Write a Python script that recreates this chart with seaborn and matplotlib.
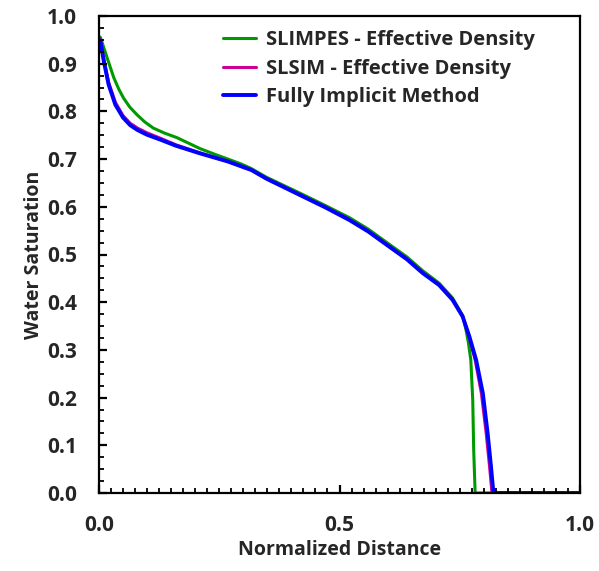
import numpy as np
import pandas as pd
import matplotlib
matplotlib.use("Agg")
import matplotlib.pyplot as plt
import seaborn as sns
from matplotlib.ticker import MultipleLocator

# ---- data ----
fim_x = [0.0, 0.003, 0.01, 0.02, 0.034, 0.05, 0.065, 0.08, 0.1, 0.127, 0.16, 0.21,
         0.268, 0.317, 0.348, 0.417, 0.47, 0.521, 0.56, 0.604, 0.64, 0.673, 0.707,
         0.735, 0.756, 0.77, 0.784, 0.798, 0.808, 0.815, 0.82, 0.83, 1.0]
fim_y = [0.95, 0.947, 0.905, 0.856, 0.814, 0.787, 0.771, 0.761, 0.751, 0.741, 0.728, 0.712,
         0.695, 0.677, 0.659, 0.625, 0.599, 0.572, 0.548, 0.516, 0.49, 0.461, 0.436,
         0.405, 0.37, 0.328, 0.279, 0.209, 0.125, 0.055, 0.0, 0.0, 0.0]

slsim_x = [0.0, 0.003, 0.01, 0.02, 0.034, 0.05, 0.065, 0.08, 0.1, 0.127, 0.16, 0.21,
           0.268, 0.317, 0.348, 0.417, 0.47, 0.521, 0.56, 0.604, 0.64, 0.673, 0.707,
           0.735, 0.756, 0.769, 0.782, 0.795, 0.805, 0.812, 0.817, 0.83, 1.0]
slsim_y = [0.953, 0.95, 0.909, 0.861, 0.819, 0.791, 0.775, 0.765, 0.755, 0.744, 0.730, 0.713,
           0.695, 0.677, 0.659, 0.626, 0.600, 0.573, 0.549, 0.517, 0.491, 0.462, 0.437,
           0.406, 0.371, 0.328, 0.279, 0.209, 0.125, 0.055, 0.0, 0.0, 0.0]

slimpes_x = [0.0, 0.003, 0.017, 0.031, 0.041, 0.051, 0.064, 0.079, 0.095, 0.113, 0.135,
             0.162, 0.21, 0.241, 0.268, 0.295, 0.317, 0.348, 0.417, 0.47, 0.521, 0.56,
             0.604, 0.64, 0.673, 0.707, 0.735, 0.756, 0.763, 0.768, 0.773, 0.777,
             0.779, 0.782, 1.0]
slimpes_y = [0.957, 0.955, 0.912, 0.870, 0.847, 0.828, 0.809, 0.793, 0.778, 0.765, 0.755,
             0.745, 0.722, 0.710, 0.700, 0.690, 0.680, 0.662, 0.629, 0.603, 0.577, 0.553,
             0.521, 0.495, 0.466, 0.440, 0.409, 0.372, 0.342, 0.315, 0.279, 0.195,
             0.09, 0.0, 0.0]

series_names = ["SLIMPES - Effective Density", "SLSIM - Effective Density",
                "Fully Implicit Method"]
x_ticks = [0.0, 0.5, 1.0]
y_ticks = [0.0, 0.1, 0.2, 0.3, 0.4, 0.5, 0.6, 0.7, 0.8, 0.9, 1.0]

# ---- style ----
sns.set_style("ticks")
plt.rcParams['font.family'] = ['Open Sans', 'DejaVu Sans']
plt.rcParams['font.weight'] = 'bold'

fig = plt.figure(figsize=(5.99, 5.71), dpi=100)
ax = fig.add_axes([99 / 599, 1 - 493 / 571, (580 - 99) / 599, (493 - 16) / 571])
ax.set_axisbelow(False)

colors = ["#009a00", "#cc0099", "#0000ff"]
widths = [2.2, 2.2, 2.8]
data = [(slimpes_x, slimpes_y), (slsim_x, slsim_y), (fim_x, fim_y)]
for name, (xs, ys), c, w in zip(series_names, data, colors, widths):
    df = pd.DataFrame({"x": xs, "y": ys})
    sns.lineplot(data=df, x="x", y="y", ax=ax, color=c, linewidth=w, label=name,
                 sort=False)

ax.set_xlim(0, 1.0)
ax.set_ylim(0, 1.0)
ax.set_xticks(x_ticks)
ax.set_yticks(y_ticks)
ax.set_xticklabels([f"{v:.1f}" for v in x_ticks])
ax.set_yticklabels([f"{v:.1f}" for v in y_ticks])
ax.xaxis.set_minor_locator(MultipleLocator(0.025))
ax.yaxis.set_minor_locator(MultipleLocator(0.025))
ax.tick_params(axis='both', which='major', direction='in', length=6, width=1.6,
               labelsize=15, pad=16, color='black', bottom=True, left=True,
               top=False, right=False)
ax.tick_params(axis='both', which='minor', direction='in', length=3.5, width=1.3,
               color='black', bottom=True, left=True, top=False, right=False)
ax.xaxis.set_zorder(3)
ax.yaxis.set_zorder(3)
for lab in ax.get_xticklabels() + ax.get_yticklabels():
    lab.set_fontweight('bold')
for s in ax.spines.values():
    s.set_visible(True)
    s.set_color('black')
    s.set_linewidth(1.6)

ax.set_xlabel("Normalized Distance", fontsize=14, fontweight='bold', labelpad=3)
ax.set_ylabel("Water Saturation", fontsize=14, fontweight='bold', labelpad=2)

leg = ax.legend(loc='upper right', frameon=False, fontsize=14.5, handlelength=1.6,
                labelspacing=0.42, borderaxespad=0.3, handletextpad=0.5,
                bbox_to_anchor=(0.935, 1.0))
for t in leg.get_texts():
    t.set_fontweight('bold')

fig.savefig("out.png", dpi=100)
